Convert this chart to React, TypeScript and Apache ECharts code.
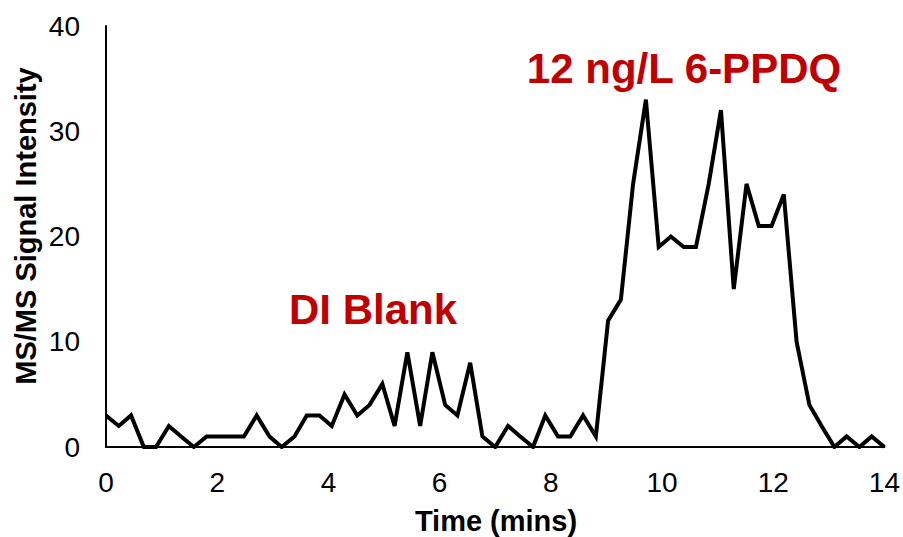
import React, { useEffect, useRef } from "react";
import * as echarts from "echarts";

const timeMins = [
  0.0, 0.23, 0.45, 0.68, 0.9, 1.13, 1.35, 1.58, 1.81, 2.03, 2.26, 2.48, 2.71,
  2.94, 3.16, 3.39, 3.61, 3.84, 4.06, 4.29, 4.52, 4.74, 4.97, 5.19, 5.42, 5.65,
  5.87, 6.1, 6.32, 6.55, 6.77, 7.0, 7.23, 7.45, 7.68, 7.9, 8.13, 8.35, 8.58,
  8.81, 9.03, 9.26, 9.48, 9.71, 9.94, 10.16, 10.39, 10.61, 10.84, 11.06, 11.29,
  11.52, 11.74, 11.97, 12.19, 12.42, 12.65, 12.87, 13.1, 13.32, 13.55, 13.77,
  14.0,
];

const signalIntensity = [
  3, 2, 3, 0, 0, 2, 1, 0, 1, 1, 1, 1, 3, 1, 0, 1, 3, 3, 2, 5, 3, 4, 6, 2, 9, 2,
  9, 4, 3, 8, 1, 0, 2, 1, 0, 3, 1, 1, 3, 1, 12, 14, 25, 33, 19, 20, 19, 19, 25,
  32, 15, 25, 21, 21, 24, 10, 4, 2, 0, 1, 0, 1, 0,
];

const xTitle = "Time (mins)";
const yTitle = "MS/MS Signal Intensity";
const blankLabel = "DI Blank";
const sampleLabel = "12 ng/L 6-PPDQ";

const FONT = "'Liberation Sans', Arial, sans-serif";

export default function App() {
  const ref = useRef<HTMLDivElement>(null);

  useEffect(() => {
    if (!ref.current) return;
    const chart = echarts.init(ref.current, null, { renderer: "svg" });
    const data = timeMins.map((t, i) => [t, signalIntensity[i]]);
    chart.setOption({
      animation: false,
      backgroundColor: "#ffffff",
      grid: { left: 106, right: 17, top: 26, bottom: 90, containLabel: false },
      xAxis: {
        type: "value",
        min: 0,
        max: 14,
        interval: 2,
        axisLine: { show: true, lineStyle: { color: "#000", width: 2 } },
        axisTick: { show: false },
        splitLine: { show: false },
        axisLabel: {
          color: "#000",
          fontSize: 28,
          fontFamily: FONT,
          margin: 21,
        },
      },
      yAxis: {
        type: "value",
        min: 0,
        max: 40,
        interval: 10,
        axisLine: { show: true, lineStyle: { color: "#000", width: 2 } },
        axisTick: { show: false },
        splitLine: { show: false },
        axisLabel: {
          color: "#000",
          fontSize: 28,
          fontFamily: FONT,
          margin: 26,
        },
      },
      series: [
        {
          type: "line",
          data,
          showSymbol: false,
          symbol: "none",
          lineStyle: { color: "#000", width: 4, join: "miter", cap: "butt" },
        },
      ],
      graphic: [
        {
          type: "text",
          x: 496,
          y: 521,
          style: {
            text: xTitle,
            fill: "#000",
            font: `bold 29px ${FONT}`,
            align: "center",
            verticalAlign: "middle",
          },
        },
        {
          type: "text",
          x: 26,
          y: 226,
          rotation: Math.PI / 2,
          style: {
            text: yTitle,
            fill: "#000",
            font: `bold 29px ${FONT}`,
            align: "center",
            verticalAlign: "middle",
          },
        },
        {
          type: "text",
          x: 373,
          y: 309,
          style: {
            text: blankLabel,
            fill: "#C00000",
            font: `bold 42px ${FONT}`,
            align: "center",
            verticalAlign: "middle",
          },
        },
        {
          type: "text",
          x: 684,
          y: 68,
          style: {
            text: sampleLabel,
            fill: "#C00000",
            font: `bold 42px ${FONT}`,
            align: "center",
            verticalAlign: "middle",
          },
        },
      ],
    });
    return () => chart.dispose();
  }, []);

  return (
    <div
      ref={ref}
      style={{ position: "fixed", left: 0, top: 0, width: 903, height: 537 }}
    />
  );
}
